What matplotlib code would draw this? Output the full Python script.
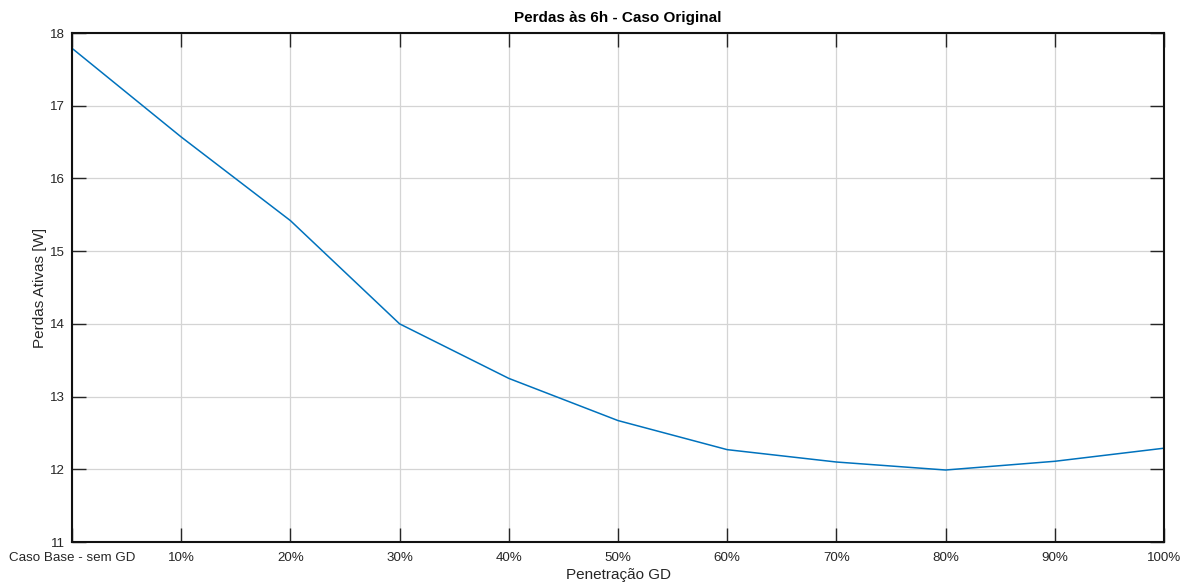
import matplotlib
matplotlib.use("Agg")
import matplotlib.pyplot as plt

# Active losses at 6h for increasing DG penetration
categorias = ["Caso Base - sem GD", "10%", "20%", "30%", "40%", "50%",
              "60%", "70%", "80%", "90%", "100%"]
perdas = [17.79, 16.57, 15.42, 14.00, 13.25, 12.67, 12.27, 12.10, 11.99, 12.11, 12.29]
yticks = [11, 12, 13, 14, 15, 16, 17, 18]

plt.rcParams['font.family'] = ['Liberation Sans', 'DejaVu Sans']

fig = plt.figure(figsize=(11.83, 5.84), dpi=100)
ax = fig.add_axes([72 / 1183, 1 - 542 / 584, (1164 - 72) / 1183, (542 - 33) / 584])

x = list(range(len(categorias)))
ax.plot(x, perdas, color="#0072BD", linewidth=1.1)

ax.set_xlim(0, len(categorias) - 1)
ax.set_ylim(11, 18)
ax.set_xticks(x)
ax.set_xticklabels(categorias)
ax.set_yticks(yticks)

ax.grid(True, color="#d4d4d4", linewidth=0.9)
ax.set_axisbelow(True)
ax.tick_params(direction="in", length=10, width=1.0, top=True, right=True,
               labelsize=9.6, colors="#262626")
ax.tick_params(axis="x", pad=7)
ax.tick_params(axis="y", pad=5)
for s in ax.spines.values():
    s.set_linewidth(1.5)
    s.set_color("#111111")

ax.set_title("Perdas às 6h - Caso Original", fontsize=11, fontweight="bold", pad=8)
ax.set_xlabel("Penetração GD", fontsize=11, labelpad=3, color="#262626")
ax.set_ylabel("Perdas Ativas [W]", fontsize=11, labelpad=2, color="#262626")

fig.savefig("out.png", dpi=100)
